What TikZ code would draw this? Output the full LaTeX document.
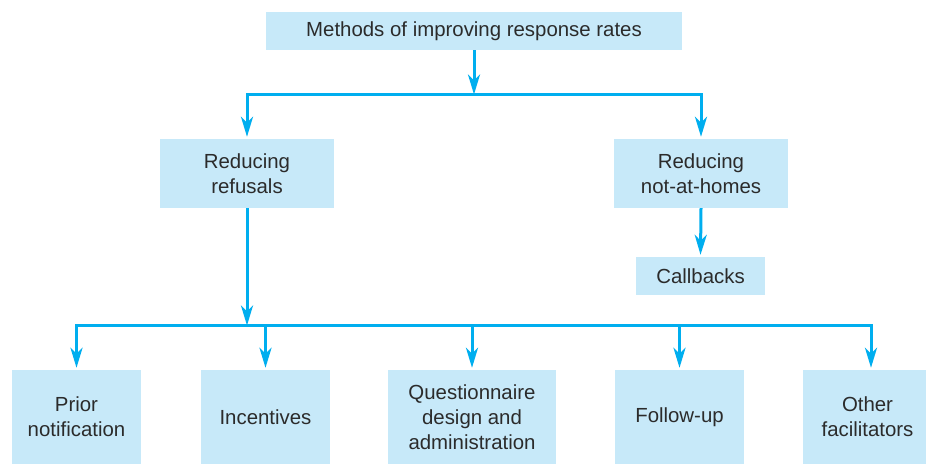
\documentclass[tikz,border=0pt]{standalone}
\usepackage{fontspec}
\setmainfont{Liberation Sans}
\usetikzlibrary{arrows.meta}
\definecolor{boxfill}{HTML}{C7E9F9}
\definecolor{linecol}{HTML}{00AEEF}
\definecolor{txtcol}{HTML}{2B2B2B}
\tikzset{
  box/.style={fill=boxfill, draw=none, inner sep=0pt, align=center,
    text=txtcol, font=\fontsize{20.4}{25}\selectfont},
  conn/.style={draw=linecol, line width=3pt, line join=miter,
    -{Stealth[length=20pt,width=12pt,inset=6pt]}, shorten >=2pt}
}
\begin{document}
\begin{tikzpicture}[x=1pt,y=-1pt]
\clip (0,0) rectangle (926,463);
\fill[white] (0,0) rectangle (926,463);
% boxes
\node[box, minimum width=416pt, minimum height=38pt] (top) at (474,31) {Methods of improving response rates};
\node[box, minimum width=174pt, minimum height=69pt] (ref) at (247,173.5) {Reducing\\refusals};
\node[box, minimum width=174pt, minimum height=69pt] (nah) at (701,173.5) {Reducing\\not-at-homes};
\node[box, minimum width=129pt, minimum height=38pt] (cb) at (700.5,276) {Callbacks};
\node[box, minimum width=129pt, minimum height=94pt] (prior) at (76.5,417) {Prior\\notification};
\node[box, minimum width=129pt, minimum height=94pt] (inc) at (265.5,417) {Incentives};
\node[box, minimum width=168pt, minimum height=94pt] (que) at (472,417) {Questionnaire\\design and\\administration};
\node[box, minimum width=129pt, minimum height=94pt] (fol) at (679.5,417) {Follow-up};
\node[box, minimum width=129pt, minimum height=94pt] (oth) at (867.5,417) {Other\\facilitators};
% junctions
\coordinate (j1) at (474,94.5);
\coordinate (j2) at (247,325.5);
% connectors
\draw[conn, shorten >=0pt] (top.south) -- (j1);
\draw[conn] (j1) -| (ref.north);
\draw[conn] (j1) -| (nah.north);
\draw[conn] (nah.south) -- (cb.north);
\draw[conn, shorten >=0pt] (ref.south) -- (j2);
\draw[conn] (j2) -| (prior.north);
\draw[conn] (j2) -| (inc.north);
\draw[conn] (j2) -| (que.north);
\draw[conn] (j2) -| (fol.north);
\draw[conn] (j2) -| ([xshift=3.5pt]oth.north);
\end{tikzpicture}
\end{document}
